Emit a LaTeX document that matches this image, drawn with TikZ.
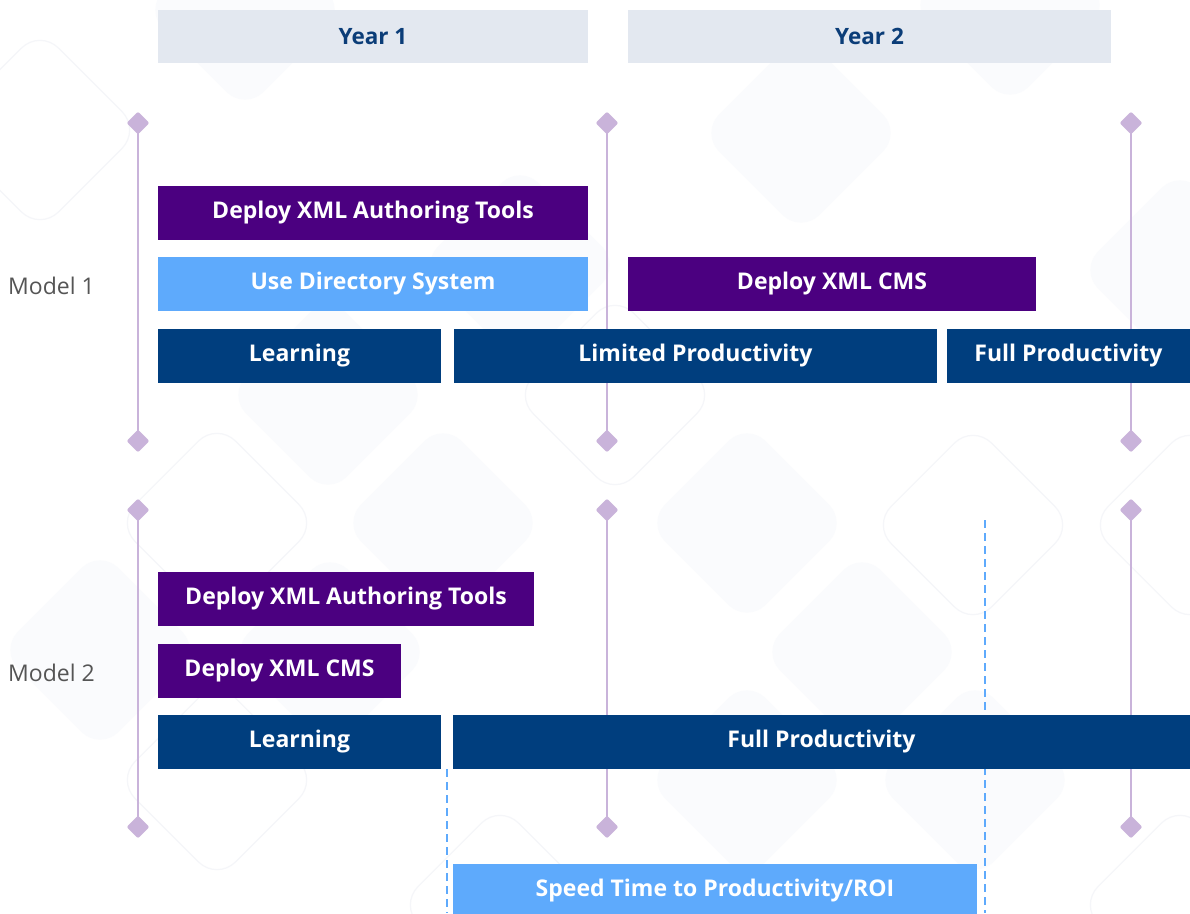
\documentclass[tikz,border=0pt]{standalone}
\usepackage{fontspec}
\setmainfont{Open Sans}
\usetikzlibrary{shapes.geometric}

\definecolor{indigoBar}{HTML}{4B0080}
\definecolor{skyBar}{HTML}{5EAAFC}
\definecolor{navyBar}{HTML}{003E7E}
\definecolor{yearFill}{HTML}{E3E8F0}
\definecolor{yearText}{HTML}{0B3D78}
\definecolor{axisLilac}{HTML}{C9B3DA}
\definecolor{labelGray}{HTML}{555555}
\definecolor{tileFill}{HTML}{FAFBFD}
\definecolor{tileLine}{HTML}{F5F6F9}

\tikzset{
  bar/.style={rectangle, inner sep=0pt, minimum height=54pt, text=white,
    font=\fontsize{23}{26}\selectfont\bfseries, anchor=center},
  yearbox/.style={rectangle, inner sep=0pt, minimum height=53pt, fill=yearFill,
    text=yearText, font=\fontsize{22.5}{26}\selectfont\bfseries},
  modellabel/.style={anchor=west, inner sep=0pt, text=labelGray,
    font=\fontsize{23}{27}\selectfont},
  milestone/.style={diamond, fill=axisLilac, inner sep=0pt, minimum size=23pt,
    rounded corners=2pt},
  axis/.style={draw=axisLilac, line width=2.8pt},
  guide/.style={draw=skyBar, line width=2pt, dash pattern=on 8pt off 5pt},
  tile/.style={rectangle, rotate=45, minimum size=142pt, rounded corners=26pt,
    inner sep=0pt},
  tilefilled/.style={tile, fill=tileFill},
  tileoutline/.style={tile, draw=tileLine, line width=1.2pt},
}

\begin{document}
\begin{tikzpicture}[x=1pt, y=-1pt]
  \useasboundingbox (0,0) rectangle (1190,913);
  \fill[white] (0,0) rectangle (1190,913);

  % faint rounded-diamond tiles in the background
  \begin{scope}
    \clip (0,0) rectangle (1190,913);
    \foreach \cx/\cy [count=\i] in {245/10, 801/133, 1010/5, 328/395, 443/523,
        747/523, 100/650, 862/652, 747/780, 975/780, 330/652, 520/265, 1180/270}
      \node[tilefilled] (tf\i) at (\cx,\cy) {};
    \foreach \cx/\cy [count=\i] in {217/523, 973/525, 217/780, 40/130, 615/395,
        1190/525, 500/905, 1180/905}
      \node[tileoutline] (to\i) at (\cx,\cy) {};
  \end{scope}

  % year headers
  \node[yearbox, minimum width=430pt] (year1) at (373,36.5) {Year 1};
  \node[yearbox, minimum width=483pt] (year2) at (869.5,36.5) {Year 2};

  % milestone axes
  \foreach \x/\n in {138/a, 607/b, 1131/c} {
    \node[milestone] (\n top1) at (\x,123) {};
    \node[milestone] (\n bot1) at (\x,441) {};
    \node[milestone] (\n top2) at (\x,510) {};
    \node[milestone] (\n bot2) at (\x,827) {};
    \draw[axis] (\n top1.center) -- (\n bot1.center);
    \draw[axis] (\n top2.center) -- (\n bot2.center);
  }

  % dashed guides
  \coordinate (g1top) at (447,769);
  \coordinate (g1bot) at (447,913);
  \coordinate (g2top) at (985,520);
  \coordinate (g2bot) at (985,913);
  \draw[guide] (g1top) -- (g1bot);
  \draw[guide] (g2top) -- (g2bot);

  % model labels
  \node[modellabel] (m1) at (8,286) {Model 1};
  \node[modellabel] (m2) at (8,673) {Model 2};

  % Model 1 bars
  \node[bar, fill=indigoBar, minimum width=430pt] (tools1) at (373,213) {Deploy XML Authoring Tools};
  \node[bar, fill=skyBar, minimum width=430pt] (dir1) at (373,284) {Use Directory System};
  \node[bar, fill=indigoBar, minimum width=408pt] (cms1) at (832,284) {Deploy XML CMS};
  \node[bar, fill=navyBar, minimum width=283pt] (learn1) at (299.5,356) {Learning};
  \node[bar, fill=navyBar, minimum width=483pt] (lim1) at (695.5,356) {Limited Productivity};
  \node[bar, fill=navyBar, minimum width=243pt] (full1) at (1068.5,356) {Full Productivity};

  % Model 2 bars
  \node[bar, fill=indigoBar, minimum width=376pt] (tools2) at (346,599) {Deploy XML Authoring Tools};
  \node[bar, fill=indigoBar, minimum width=243pt] (cms2) at (279.5,671) {Deploy XML CMS};
  \node[bar, fill=navyBar, minimum width=283pt] (learn2) at (299.5,742) {Learning};
  \node[bar, fill=navyBar, minimum width=737pt] (full2) at (821.5,742) {Full Productivity};

  % benefit bar
  \node[bar, fill=skyBar, minimum width=524pt] (speed) at (715,891) {Speed Time to Productivity/ROI};
\end{tikzpicture}
\end{document}
